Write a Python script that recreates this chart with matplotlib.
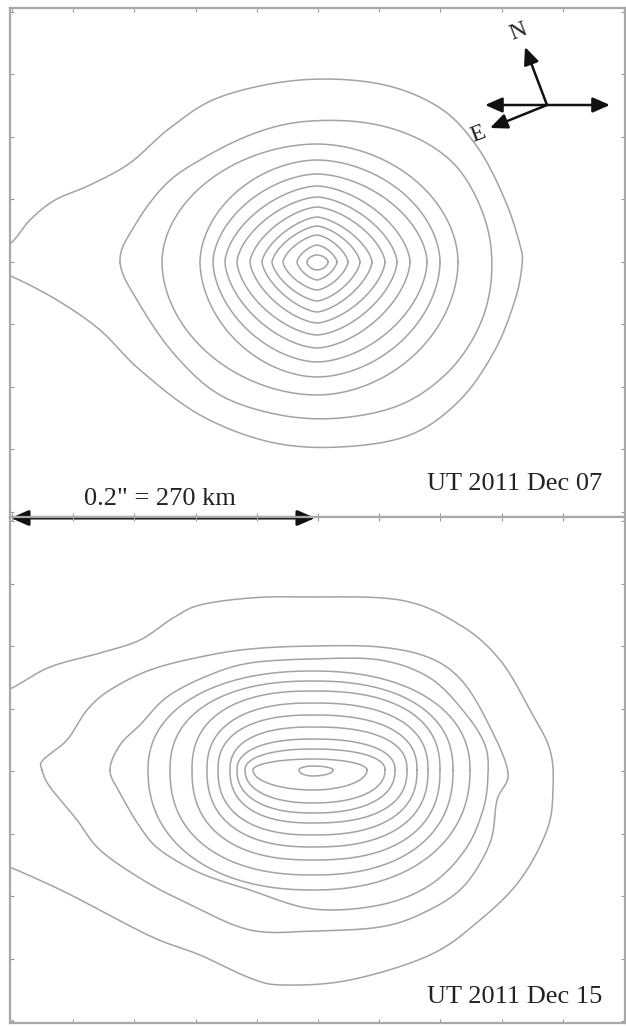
import numpy as np
import matplotlib.pyplot as plt
from matplotlib.patches import FancyArrowPatch

# image coordinates (pixels of the original figure), y grows downward

# ---- UT 2011 Dec 07 ----
top_center = (317, 262)
# closed contours, one row per level: extent to E, N, W, S and squareness
top_levels = [
    [11, 7, 10, 8, 1.8],
    [20, 17, 20, 18, 1.5],
    [31, 27, 34, 28, 1.5],
    [43, 36, 45, 39, 1.5],
    [55, 45, 55, 50, 1.5],
    [68, 55, 67, 61, 1.55],
    [80, 65, 80, 73, 1.6],
    [93, 76, 92, 86, 1.65],
    [110, 88, 104, 100, 1.75],
    [123, 102, 117, 115, 1.85],
    [141, 118, 155, 133, 1.9],
]
# contour with the pointed west side, traced
top_second_x = [120, 135, 165, 200, 250, 300, 360, 410, 450, 475, 490,
                490, 475, 445, 400, 340, 280, 220, 175, 140]
top_second_y = [262, 225, 185, 160, 135, 122, 122, 135, 160, 195, 240,
                290, 335, 375, 405, 418, 415, 395, 355, 305]
# outermost level, open to the left
top_outer_x = [-5, 12, 30, 55, 90, 130, 170, 220, 300, 380, 440, 478, 505, 520,
               522, 515, 495, 460, 410, 340, 270, 200, 140, 100, 57, 13, -5]
top_outer_y = [250, 242, 220, 200, 185, 163, 128, 97, 80, 84, 108, 148, 200, 245,
               265, 300, 350, 400, 435, 447, 442, 415, 370, 330, 300, 277, 272]

# ---- UT 2011 Dec 15 ----
bot_center = (313, 770)
bot_levels = [
    [20, 4, 14, 6, 2.0],
    [54, 11, 60, 20, 2.0],
    [72, 21, 68, 33, 2.2],
    [82, 31, 76, 43, 2.3],
    [94, 43, 83, 53, 2.4],
    [104, 55, 95, 65, 2.4],
    [115, 67, 106, 77, 2.4],
    [127, 79, 121, 90, 2.4],
    [140, 89, 143, 105, 2.3],
    [157, 99, 165, 120, 2.2],
]
bot_third_x = [110, 120, 140, 167, 207, 250, 313, 380, 430, 465, 485, 488,
               483, 465, 430, 380, 313, 250, 200, 160, 140, 120]
bot_third_y = [770, 745, 725, 697, 676, 663, 659, 660, 678, 713, 745, 775,
               810, 850, 885, 905, 909, 890, 873, 850, 827, 793]
bot_second_x = [42, 43, 67, 87, 110, 150, 200, 250, 313, 380, 430, 463, 490, 508,
                497, 490, 463, 423, 380, 313, 250, 187, 143, 100, 77, 50]
bot_second_y = [770, 760, 740, 710, 690, 670, 657, 649, 646, 647, 658, 682, 727, 773,
                800, 843, 887, 913, 927, 931, 930, 903, 880, 850, 820, 787]
bot_outer_x = [-5, 12, 50, 100, 140, 173, 200, 250, 300, 400, 460, 500, 530, 550,
               553, 547, 520, 480, 430, 350, 283, 250, 200, 150, 67, 12, -5]
bot_outer_y = [693, 688, 667, 653, 640, 618, 605, 598, 597, 600, 625, 660, 710, 750,
               790, 830, 880, 920, 955, 980, 985, 978, 955, 936, 893, 868, 862]

LINE = '#a3a3a3'


def catmull(x, y, closed, n=20):
    p = np.column_stack([x, y]).astype(float)
    if closed:
        p = np.vstack([p[-1], p, p[0], p[1]])
    else:
        p = np.vstack([p[0], p, p[-1]])
    t = np.linspace(0, 1, n, endpoint=False)[:, None]
    segs = []
    for i in range(1, len(p) - 2):
        p0, p1, p2, p3 = p[i - 1], p[i], p[i + 1], p[i + 2]
        segs.append(0.5 * (2 * p1 + (p2 - p0) * t + (2 * p0 - 5 * p1 + 4 * p2 - p3) * t ** 2
                           + (3 * p1 - p0 - 3 * p2 + p3) * t ** 3))
    segs.append(p[-2][None, :])
    out = np.vstack(segs)
    return out[:, 0], out[:, 1]


def level_curve(ax, center, row):
    e, n, w, s, sq = row
    t = np.linspace(0, 2 * np.pi, 361)
    c, sn = np.cos(t), np.sin(t)
    rx = np.where(c >= 0, e, w)
    ry = np.where(sn >= 0, n, s)
    x = center[0] + rx * np.sign(c) * np.abs(c) ** (2 / sq)
    y = center[1] - ry * np.sign(sn) * np.abs(sn) ** (2 / sq)
    ax.plot(x, y, color=LINE, lw=1.1)


def traced(ax, xs, ys, closed):
    x, y = catmull(xs, ys, closed)
    ax.plot(x, y, color=LINE, lw=1.1)


def style(ax, y0, y1):
    ax.set_xlim(10, 625)
    ax.set_ylim(y1, y0)
    ax.set_xticks(np.linspace(12, 624, 11))
    ax.set_yticks(np.arange(y0 + 4, y1, 62.5))
    ax.tick_params(direction='in', length=3, width=0.8, color='#999999',
                   top=True, right=True, labelleft=False, labelbottom=False)
    for s in ax.spines.values():
        s.set_color('#a8a8a8')
        s.set_linewidth(1.6)


fig = plt.figure(figsize=(6.26, 10.26), dpi=100)
W, H = 626, 1026
ax1 = fig.add_axes([10 / W, 1 - 517 / H, 615 / W, 509 / H])
ax2 = fig.add_axes([10 / W, 1 - 1023 / H, 615 / W, 506 / H])
style(ax1, 8, 517)
style(ax2, 517, 1023)

for row in top_levels:
    level_curve(ax1, top_center, row)
traced(ax1, top_second_x, top_second_y, True)
traced(ax1, top_outer_x, top_outer_y, False)

for row in bot_levels:
    level_curve(ax2, bot_center, row)
traced(ax2, bot_third_x, bot_third_y, True)
traced(ax2, bot_second_x, bot_second_y, True)
traced(ax2, bot_outer_x, bot_outer_y, False)

serif = 'Liberation Serif'
ax1.text(602, 490, 'UT 2011 Dec 07', ha='right', va='baseline',
         fontsize=19, family=serif, color='#222222')
ax2.text(602, 1003, 'UT 2011 Dec 15', ha='right', va='baseline',
         fontsize=19, family=serif, color='#222222')

# scale bar
fig.text(160 / W, 1 - 505 / H, '0.2" = 270 km', ha='center', va='baseline',
         fontsize=19, family=serif, color='#222222')
ax2.add_patch(FancyArrowPatch((8, 518), (318, 518), arrowstyle='<|-|>,head_length=8,head_width=3.5',
                              color='#111111', lw=2.2, clip_on=False, mutation_scale=1.3))

# compass
cx, cy = 547, 105
for tip in [(485, 105), (610, 105), (525, 47), (490, 128)]:
    ax1.add_patch(FancyArrowPatch((cx, cy), tip, arrowstyle='-|>,head_length=8,head_width=3.5',
                                  color='#111111', lw=1.8, mutation_scale=1.3,
                                  shrinkA=0, shrinkB=0))
ax1.text(518, 32, 'N', ha='center', va='center', rotation=21, fontsize=17,
         family=serif, color='#222222')
ax1.text(478, 134, 'E', ha='center', va='center', rotation=21, fontsize=17,
         family=serif, color='#222222')

fig.savefig('out.png', dpi=100)
